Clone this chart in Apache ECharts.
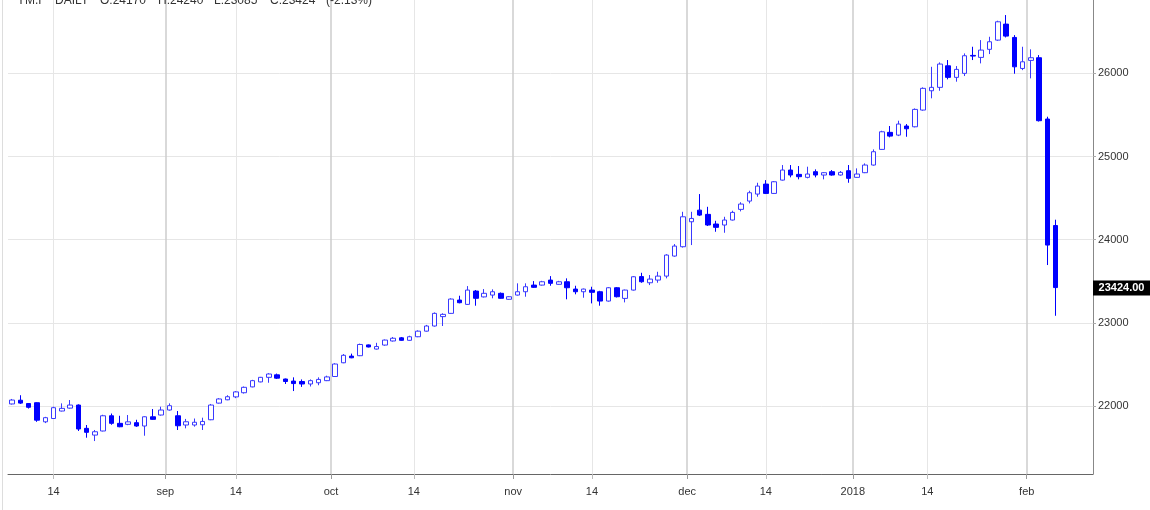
<!DOCTYPE html>
<html><head><meta charset="utf-8">
<script src="https://cdn.jsdelivr.net/npm/echarts@6/dist/echarts.min.js"></script>
<style>html,body{margin:0;padding:0;background:#fff}#c{width:1150px;height:510px}</style>
</head><body><div id="c"></div>
<script>
const dates = [
'2017-08-07','2017-08-08','2017-08-09','2017-08-10','2017-08-11','2017-08-14','2017-08-15','2017-08-16','2017-08-17','2017-08-18',
'2017-08-21','2017-08-22','2017-08-23','2017-08-24','2017-08-25','2017-08-28','2017-08-29','2017-08-30','2017-08-31',
'2017-09-01','2017-09-05','2017-09-06','2017-09-07','2017-09-08','2017-09-11','2017-09-12','2017-09-13','2017-09-14','2017-09-15',
'2017-09-18','2017-09-19','2017-09-20','2017-09-21','2017-09-22','2017-09-25','2017-09-26','2017-09-27','2017-09-28','2017-09-29',
'2017-10-02','2017-10-03','2017-10-04','2017-10-05','2017-10-06','2017-10-09','2017-10-10','2017-10-11','2017-10-12','2017-10-13',
'2017-10-16','2017-10-17','2017-10-18','2017-10-19','2017-10-20','2017-10-23','2017-10-24','2017-10-25','2017-10-26','2017-10-27',
'2017-10-30','2017-10-31',
'2017-11-01','2017-11-02','2017-11-03','2017-11-06','2017-11-07','2017-11-08','2017-11-09','2017-11-10','2017-11-13','2017-11-14',
'2017-11-15','2017-11-16','2017-11-17','2017-11-20','2017-11-21','2017-11-22','2017-11-24','2017-11-27','2017-11-28','2017-11-29','2017-11-30',
'2017-12-01','2017-12-04','2017-12-05','2017-12-06','2017-12-07','2017-12-08','2017-12-11','2017-12-12','2017-12-13','2017-12-14',
'2017-12-15','2017-12-18','2017-12-19','2017-12-20','2017-12-21','2017-12-22','2017-12-26','2017-12-27','2017-12-28','2017-12-29',
'2018-01-02','2018-01-03','2018-01-04','2018-01-05','2018-01-08','2018-01-09','2018-01-10','2018-01-11','2018-01-12','2018-01-16',
'2018-01-17','2018-01-18','2018-01-19','2018-01-22','2018-01-23','2018-01-24','2018-01-25','2018-01-26','2018-01-29','2018-01-30','2018-01-31',
'2018-02-01','2018-02-02','2018-02-05','2018-02-06'
];
const opens = [
22025,22070,22030,22040,21810,21850,21940,21975,22012,21732,
21651,21700,21883,21792,21780,21800,21760,21871,21892,21952,
21883,21772,21772,21775,21835,22035,22075,22110,22160,22230,
22290,22345,22375,22325,22300,22295,22265,22280,22305,22355,
22520,22600,22605,22735,22685,22733,22782,22820,22790,22833,
22900,22962,23075,23114,23274,23222,23382,23312,23334,23355,
23283,23334,23374,23454,23454,23514,23463,23494,23406,23374,
23394,23374,23262,23422,23294,23394,23556,23482,23514,23562,
23803,23915,24215,24355,24304,24188,24176,24236,24364,24464,
24548,24668,24556,24716,24837,24785,24749,24817,24777,24817,
24777,24829,24749,24805,24897,25085,25290,25257,25366,25357,
25558,25790,25831,26090,25951,25999,26215,26191,26288,26399,
26591,26431,26058,26155,26187,25450,24170
];
const closes = [
22072,22035,21985,21830,21860,21980,21972,22012,21724,21684,
21691,21883,21792,21751,21810,21760,21871,21840,21952,22004,
21763,21811,21805,21815,22012,22085,22112,22170,22225,22305,
22345,22385,22335,22295,22270,22265,22305,22320,22350,22505,
22610,22580,22740,22710,22715,22793,22815,22790,22833,22900,
22962,23114,23102,23286,23242,23394,23295,23355,23374,23295,
23314,23374,23434,23427,23494,23475,23494,23422,23374,23406,
23367,23262,23422,23314,23394,23554,23494,23526,23562,23815,
23923,24275,24255,24295,24176,24148,24236,24328,24428,24564,
24644,24556,24696,24837,24777,24757,24789,24777,24805,24777,
24809,24737,24789,24897,25057,25297,25245,25390,25333,25566,
25819,25831,26111,25951,26047,26211,26207,26279,26379,26619,
26447,26078,26138,26187,25430,23935,23424
];
const lows = [
22018,22025,21970,21810,21795,21845,21935,21968,21700,21619,
21579,21695,21775,21745,21770,21750,21643,21835,21885,21945,
21712,21732,21752,21712,21830,22030,22070,22095,22150,22225,
22285,22280,22325,22265,22180,22230,22235,22250,22300,22350,
22515,22575,22600,22705,22680,22725,22775,22785,22785,22828,
22895,22955,22962,23110,23235,23215,23206,23305,23295,23290,
23278,23328,23314,23420,23448,23446,23458,23283,23343,23302,
23234,23206,23255,23305,23246,23388,23482,23454,23482,23535,
23795,23905,23935,24284,24164,24095,24083,24230,24340,24436,
24516,24548,24550,24710,24749,24725,24737,24749,24725,24769,
24770,24684,24745,24800,24890,25080,25230,25245,25237,25350,
25550,25699,25790,25927,25899,25967,26159,26119,26231,26390,
26431,25995,26038,25939,25420,23695,23085
];
const highs = [
22085,22130,22035,22045,21870,21992,22032,22072,22020,21772,
21712,21895,21910,21883,21892,21835,21876,21964,21992,22032,
21940,21845,21850,21860,22025,22095,22130,22180,22235,22315,
22350,22395,22390,22330,22345,22320,22320,22345,22365,22515,
22625,22630,22750,22740,22760,22800,22830,22830,22845,22910,
22975,23125,23115,23295,23326,23442,23395,23406,23403,23365,
23320,23475,23475,23502,23505,23562,23505,23535,23446,23412,
23434,23385,23430,23430,23400,23562,23602,23575,23614,23825,
23947,24335,24335,24548,24395,24227,24275,24348,24450,24588,
24684,24716,24705,24897,24897,24885,24877,24845,24812,24837,
24825,24897,24857,24917,25085,25309,25366,25430,25390,25578,
25831,26078,26131,26159,26087,26239,26319,26399,26439,26632,
26700,26459,26319,26288,26219,25478,24240
];
const yTickValues = [22000, 23000, 24000, 25000, 26000];
const monthNames = ['jan','feb','mar','apr','may','jun','jul','aug','sep','oct','nov','dec'];
const midDay = 14;
const emptySlots = 4;
const titleParts = ['YM.F', 'DAILY', 'O:24170', 'H:24240', 'L:23085', 'C:23424', '(-2.13%)'];

const cats = dates.concat(new Array(emptySlots).fill(''));
const N = cats.length;

// month boundary ticks (between last day of a month and first of the next)
const monthTicks = [];
const monthLabelMap = {};
for (let i = 1; i < dates.length; i++) {
  if (dates[i].slice(0, 7) !== dates[i - 1].slice(0, 7)) {
    const v = i - 0.5;
    monthTicks.push(v);
    const m = +dates[i].slice(5, 7);
    monthLabelMap[String(v)] = m === 1 ? dates[i].slice(0, 4) : monthNames[m - 1];
  }
}
// mid-month ticks (the 14th, or the gap where it falls)
const midTicks = [];
const seen = {};
for (let i = 0; i < dates.length; i++) {
  const key = dates[i].slice(0, 7);
  const d = +dates[i].slice(8, 10);
  if (!seen[key] && d >= midDay) {
    seen[key] = true;
    midTicks.push(d === midDay ? i : i - 0.5);
  }
}

const font = 'Liberation Sans, Arial, sans-serif';
const ohlc = opens.map((o, i) => [o, closes[i], lows[i], highs[i]]);

const chart = echarts.init(document.getElementById('c'), null, {renderer: 'canvas'});
chart.setOption({
  animation: false,
  backgroundColor: '#fff',
  grid: {left: 8, right: 57, top: 0, bottom: 36, containLabel: false},
  xAxis: [
    {
      type: 'category', data: cats, boundaryGap: true, position: 'bottom',
      axisLine: {show: true, onZero: false, lineStyle: {color: '#666', width: 1}},
      axisTick: {show: false}, axisLabel: {show: false}, splitLine: {show: false}
    },
    {
      type: 'value', min: -0.5, max: N - 0.5, position: 'bottom',
      axisLine: {show: false, onZero: false},
      axisTick: {show: true, customValues: monthTicks, length: 5, lineStyle: {color: '#999'}},
      axisLabel: {customValues: monthTicks, margin: 12, color: '#333', fontSize: 11, fontFamily: font,
        formatter: v => monthLabelMap[String(v)] || ''},
      splitLine: {show: true, lineStyle: {color: '#cccccc', width: 1.5}}
    },
    {
      type: 'value', min: -0.5, max: N - 0.5, position: 'bottom',
      axisLine: {show: false, onZero: false},
      axisTick: {show: true, customValues: midTicks, length: 5, lineStyle: {color: '#bbb'}},
      axisLabel: {customValues: midTicks, margin: 12, color: '#333', fontSize: 11, fontFamily: font,
        formatter: () => String(midDay)},
      splitLine: {show: true, lineStyle: {color: '#e6e6e6', width: 1}}
    }
  ],
  yAxis: {
    type: 'value', position: 'right', min: 21183, max: 26881, scale: true,
    axisLine: {show: true, onZero: false, lineStyle: {color: '#888'}},
    axisTick: {show: true, customValues: yTickValues, length: 3, lineStyle: {color: '#aaa'}},
    axisLabel: {customValues: yTickValues, margin: 5, color: '#333', fontSize: 11, fontFamily: font,
      formatter: v => String(v)},
    splitLine: {show: true, lineStyle: {color: '#e6e6e6'}}
  },
  series: [{
    type: 'candlestick', xAxisIndex: 0, yAxisIndex: 0, data: ohlc, barWidth: 5, z: 5,
    itemStyle: {color: '#ffffff', color0: '#0000ff', borderColor: '#3a3aff', borderColor0: '#0000ff', borderWidth: 1},
    emphasis: {disabled: true}
  }]
});

const lastClose = closes[closes.length - 1];
const py = chart.convertToPixel({yAxisIndex: 0}, lastClose);
const titleX = [17, 55, 100, 158, 214, 270, 326];
const graphics = [
  {type: 'line', shape: {x1: 2.5, y1: 0, x2: 2.5, y2: 510}, style: {stroke: '#dddddd', lineWidth: 1}, silent: true},
  {type: 'rect', shape: {x: 1093, y: Math.round(py) - 7.5, width: 57, height: 15}, style: {fill: '#000'}, z: 10},
  {type: 'text', x: 1121.5, y: Math.round(py), z: 11,
    style: {text: lastClose.toFixed(2), fill: '#fff', font: 'bold 11px ' + font, align: 'center', verticalAlign: 'middle'}}
];
titleParts.forEach((t, i) => graphics.push({type: 'text', x: titleX[i], y: 7, z: 10,
  style: {text: t, fill: '#333', font: '12px ' + font, verticalAlign: 'bottom'}}));
chart.setOption({graphic: graphics});
</script>
</body></html>
